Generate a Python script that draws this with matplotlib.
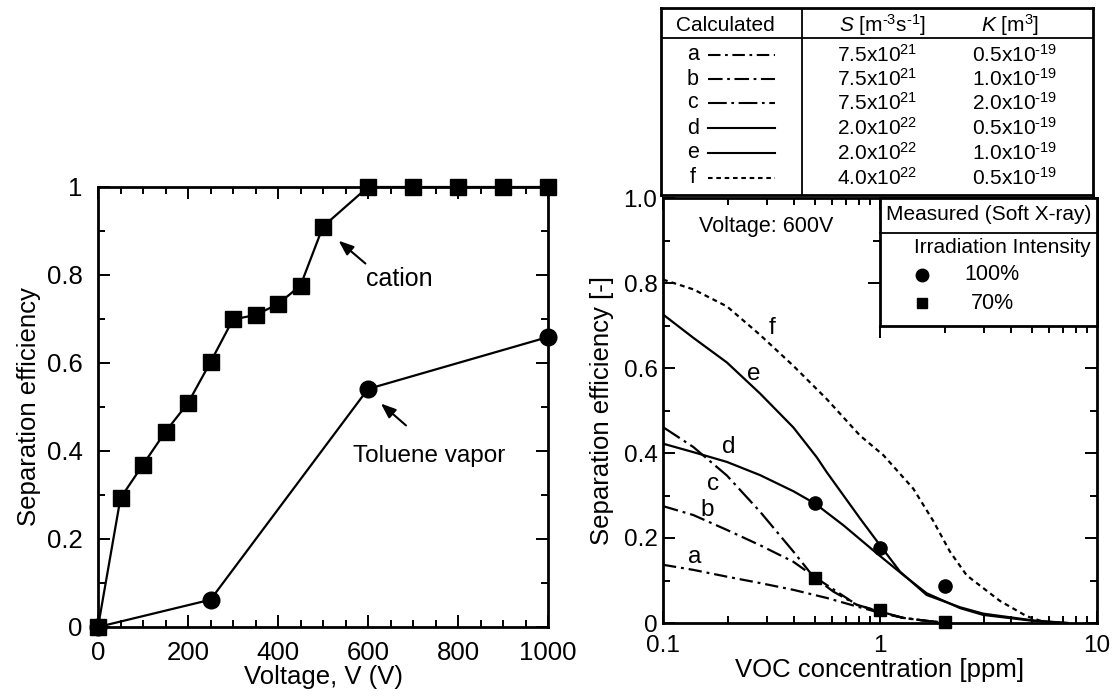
import numpy as np
import matplotlib.pyplot as plt
from matplotlib.ticker import MultipleLocator, FixedLocator, LogLocator, NullFormatter

plt.rcParams['font.family'] = ['Liberation Sans', 'DejaVu Sans']
plt.rcParams['mathtext.fontset'] = 'custom'
plt.rcParams['mathtext.rm'] = 'Liberation Sans'
plt.rcParams['mathtext.it'] = 'Liberation Sans:italic'

# ======== data: left panel ========
voltage_cation = [0, 50, 100, 150, 200, 250, 300, 350, 400, 450, 500, 600, 700, 800, 900, 1000]
eff_cation = [0, 0.293, 0.369, 0.444, 0.509, 0.602, 0.699, 0.709, 0.734, 0.776, 0.91, 1.0, 1.0, 1.0, 1.0, 1.0]
voltage_toluene = [0, 250, 600, 1000]
eff_toluene = [0, 0.062, 0.541, 0.659]

# ======== data: right panel (calculated curves) ========
conc_a = [0.1, 0.138, 0.197, 0.28, 0.399, 0.568, 0.781, 1.0, 1.28, 1.64, 2.1]
eff_a = [0.137, 0.125, 0.109, 0.094, 0.078, 0.059, 0.039, 0.024, 0.012, 0.005, 0.0]
conc_b = [0.1, 0.138, 0.197, 0.28, 0.399, 0.511, 0.781, 1.0, 1.28, 1.64, 2.1]
eff_b = [0.275, 0.254, 0.219, 0.183, 0.144, 0.105, 0.043, 0.026, 0.012, 0.005, 0.0]
conc_c = [0.1, 0.138, 0.197, 0.28, 0.399, 0.493, 0.609, 0.781, 1.0, 1.28, 1.64, 2.1]
eff_c = [0.461, 0.414, 0.347, 0.262, 0.168, 0.109, 0.074, 0.043, 0.027, 0.012, 0.005, 0.0]
conc_d = [0.1, 0.138, 0.197, 0.28, 0.399, 0.502, 0.678, 0.966, 1.28, 1.64, 2.34, 2.99, 5.09, 7.3]
eff_d = [0.422, 0.402, 0.379, 0.348, 0.310, 0.281, 0.230, 0.164, 0.113, 0.070, 0.035, 0.019, 0.005, 0.0]
conc_e = [0.1, 0.138, 0.197, 0.28, 0.399, 0.511, 0.568, 0.809, 1.0, 1.236, 1.64, 2.34, 2.99, 5.09, 7.3]
eff_e = [0.726, 0.671, 0.613, 0.54, 0.46, 0.390, 0.355, 0.246, 0.183, 0.121, 0.066, 0.037, 0.022, 0.006, 0.0]
conc_f = [0.1, 0.138, 0.197, 0.28, 0.399, 0.568, 0.809, 1.036, 1.424, 1.76, 2.10, 2.51, 3.57, 4.74, 5.9]
eff_f = [0.808, 0.785, 0.745, 0.678, 0.605, 0.527, 0.441, 0.395, 0.316, 0.240, 0.168, 0.112, 0.052, 0.016, 0.0]

# measured points
conc_meas = [0.5, 1.0, 2.0]
eff_100 = [0.283, 0.177, 0.086]
eff_70 = [0.107, 0.031, 0.002]

# table contents
calc_names = ['a', 'b', 'c', 'd', 'e', 'f']
S_mant = ['7.5', '7.5', '7.5', '2.0', '2.0', '4.0']
S_exp = ['21', '21', '21', '22', '22', '22']
K_mant = ['0.5', '1.0', '2.0', '0.5', '1.0', '0.5']
K_exp = ['\u201019'] * 6

styles = {
    'a': (0, (6, 2.2, 1.3, 2.2)),
    'b': (0, (7, 2.2, 1.3, 2.2)),
    'c': (0, (9, 2.2, 1.3, 2.2)),
    'd': '-',
    'e': '-',
    'f': (0, (2.2, 1.8)),
}
curves = {
    'a': (conc_a, eff_a), 'b': (conc_b, eff_b), 'c': (conc_c, eff_c),
    'd': (conc_d, eff_d), 'e': (conc_e, eff_e), 'f': (conc_f, eff_f),
}
curve_label_pos = {
    'a': (0.140, 0.156), 'b': (0.159, 0.265), 'c': (0.171, 0.328),
    'd': (0.2, 0.414), 'e': (0.262, 0.585), 'f': (0.317, 0.695),
}

TICK_FS = 17.5
LEFT_TICK_FS = 18.5
LABEL_FS = 18.5
BOX_FS = 15

fig = plt.figure(figsize=(11.17, 7), dpi=100)

# ======== left panel ========
ax1 = fig.add_axes([98 / 1117, 73 / 700, 450 / 1117, 440 / 700])
ax1.plot(voltage_cation, eff_cation, '-s', color='black', lw=1.6, ms=12, clip_on=False, zorder=3)
ax1.plot(voltage_toluene, eff_toluene, '-o', color='black', lw=1.6, ms=12, clip_on=False, zorder=3)
ax1.set_xlim(0, 1000)
ax1.set_ylim(0, 1)
ax1.xaxis.set_major_locator(MultipleLocator(200))
ax1.xaxis.set_minor_locator(MultipleLocator(50))
ax1.yaxis.set_minor_locator(MultipleLocator(0.1))
ax1.set_yticks([0, 0.2, 0.4, 0.6, 0.8, 1.0])
ax1.set_yticklabels(['0', '0.2', '0.4', '0.6', '0.8', '1'])
ax1.tick_params(which='both', direction='in', top=True, right=True, width=1.4, labelsize=LEFT_TICK_FS)
ax1.tick_params(which='major', length=8.5)
ax1.tick_params(which='minor', length=5)
ax1.tick_params(axis='x', pad=10)
ax1.tick_params(axis='y', pad=11)
for s in ax1.spines.values():
    s.set_linewidth(2.0)
ax1.set_xlabel('Voltage, V (V)', fontsize=LABEL_FS, labelpad=0)
ax1.set_ylabel('Separation efficiency', fontsize=LABEL_FS, labelpad=4)

arrow = dict(arrowstyle='-|>,head_length=0.9,head_width=0.35', color='black', lw=1.5)
ax1.annotate('', xy=(530, 0.882), xytext=(599, 0.822), arrowprops=arrow)
ax1.text(670, 0.79, 'cation', fontsize=LEFT_TICK_FS - 0.5, ha='center', va='center')
ax1.annotate('', xy=(624, 0.512), xytext=(689, 0.454), arrowprops=arrow)
ax1.text(736, 0.389, 'Toluene vapor', fontsize=LEFT_TICK_FS - 1, ha='center', va='center')

# ======== right panel ========
ax2 = fig.add_axes([663 / 1117, 77 / 700, 434 / 1117, 425 / 700])
for name in calc_names:
    cx, cy = curves[name]
    ax2.plot(cx, cy, color='black', lw=1.6, ls=styles[name])
    lx, ly = curve_label_pos[name]
    ax2.text(lx, ly, name, fontsize=TICK_FS, ha='center', va='center')
ax2.plot(conc_meas, eff_100, 'o', color='black', ms=9.5, clip_on=False, zorder=4)
ax2.plot(conc_meas, eff_70, 's', color='black', ms=8.5, clip_on=False, zorder=4)
ax2.set_xscale('log')
ax2.set_xlim(0.1, 10)
ax2.set_ylim(0, 1.0)
ax2.set_xticks([0.1, 1, 10])
ax2.set_xticklabels(['0.1', '1', '10'])
ax2.xaxis.set_minor_locator(LogLocator(base=10, subs=np.arange(2, 10)))
ax2.xaxis.set_minor_formatter(NullFormatter())
ax2.set_yticks([0, 0.2, 0.4, 0.6, 0.8, 1.0])
ax2.set_yticklabels(['0', '0.2', '0.4', '0.6', '0.8', '1.0'])
ax2.yaxis.set_minor_locator(MultipleLocator(0.1))
ax2.tick_params(which='both', direction='in', top=True, right=True, width=1.4, labelsize=TICK_FS)
ax2.tick_params(which='major', length=8.5)
ax2.tick_params(which='minor', length=5)
ax2.tick_params(axis='x', pad=9)
ax2.tick_params(axis='y', pad=4)
for s in ax2.spines.values():
    s.set_linewidth(2.0)
ax2.set_xlabel('VOC concentration [ppm]', fontsize=LABEL_FS, labelpad=0)
ax2.set_ylabel('Separation efficiency [-]', fontsize=LABEL_FS, labelpad=7)
ax2.text(0.30, 0.932, 'Voltage: 600V', fontsize=BOX_FS + 0.5, ha='center', va='center')

# measured legend box (covers upper right of the plot, ticks drawn outward)
ins = ax2.inset_axes([0.5, 0.7, 0.5, 0.3])
ins.set_facecolor('white')
ins.set_xscale('log')
ins.set_xlim(1, 10)
ins.set_ylim(0.7, 1.0)
ins.xaxis.set_major_locator(FixedLocator([1]))
ins.xaxis.set_minor_locator(LogLocator(base=10, subs=np.arange(2, 10)))
ins.xaxis.set_minor_formatter(NullFormatter())
ins.yaxis.set_major_locator(FixedLocator([0.8]))
ins.yaxis.set_minor_locator(FixedLocator([0.9]))
ins.tick_params(which='both', direction='out', top=False, right=False,
                labelbottom=False, labelleft=False, width=1.4)
ins.tick_params(which='major', length=8.5)
ins.tick_params(which='minor', length=5)
for s in ins.spines.values():
    s.set_linewidth(2.0)
ins.plot([0, 1], [0.727, 0.727], color='black', lw=1.3, transform=ins.transAxes, clip_on=False)
ins.text(0.5, 0.867, 'Measured (Soft X-ray)', fontsize=BOX_FS, ha='center', va='center', transform=ins.transAxes)
ins.text(0.562, 0.61, 'Irradiation Intensity', fontsize=BOX_FS, ha='center', va='center', transform=ins.transAxes)
ins.plot([0.194], [0.4], 'o', color='black', ms=9, transform=ins.transAxes)
ins.plot([0.194], [0.173], 's', color='black', ms=7, transform=ins.transAxes)
ins.text(0.516, 0.4, '100%', fontsize=BOX_FS + 0.5, ha='center', va='center', transform=ins.transAxes)
ins.text(0.52, 0.173, '70%', fontsize=BOX_FS + 0.5, ha='center', va='center', transform=ins.transAxes)

# ======== table above right panel ========
tax = fig.add_axes([661 / 1117, 1 - 195 / 700, 432 / 1117, 187 / 700])
tax.set_xlim(0, 1)
tax.set_ylim(0, 1)
tax.set_xticks([])
tax.set_yticks([])
for s in tax.spines.values():
    s.set_linewidth(2.0)
tax.axhline(0.8396, color='black', lw=1.3)
tax.axvline(0.326, color='black', lw=1.3)
tax.text(0.150, 0.909, 'Calculated', fontsize=BOX_FS, ha='center', va='center')
tax.text(0.512, 0.909, '$\\it{S}$ [m$^{\u20103}$s$^{\u20101}$]', fontsize=BOX_FS, ha='center', va='center')
tax.text(0.808, 0.909, '$\\it{K}$ [m$^{3}$]', fontsize=BOX_FS, ha='center', va='center')
row_y = [0.749, 0.620, 0.492, 0.358, 0.225, 0.091]
for i, name in enumerate(calc_names):
    y = row_y[i]
    tax.text(0.074, y, name, fontsize=BOX_FS + 0.5, ha='center', va='center')
    tax.plot([0.109, 0.264], [y, y], color='black', lw=1.5, ls=styles[name])
    tax.text(0.407, y, S_mant[i] + 'x10$^{' + S_exp[i] + '}$', fontsize=BOX_FS, ha='left', va='center')
    tax.text(0.72, y, K_mant[i] + 'x10$^{' + K_exp[i] + '}$', fontsize=BOX_FS, ha='left', va='center')

fig.savefig('out.png', dpi=100)
